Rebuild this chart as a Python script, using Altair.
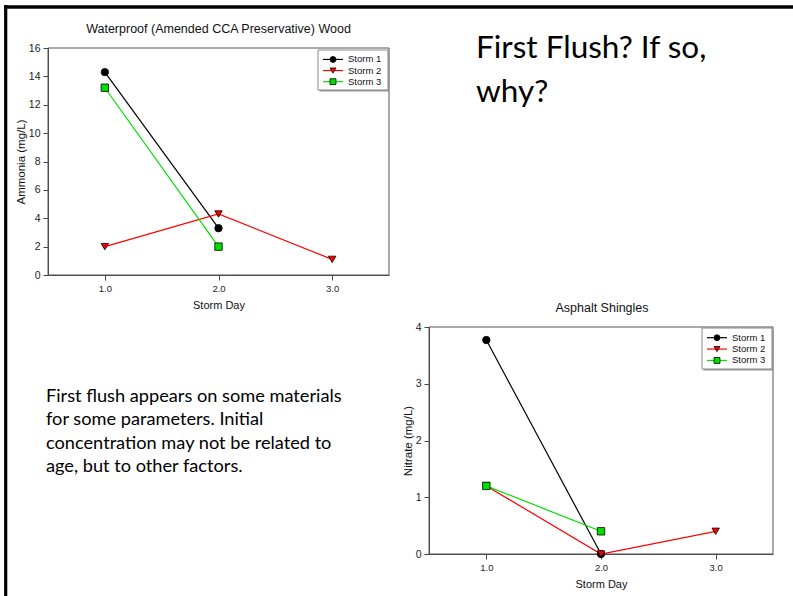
import altair as alt
import pandas as pd

W, H = 793, 596

# ---------------- data ----------------
series = ["Storm 1", "Storm 2", "Storm 3"]
day_ticks = [1.0, 2.0, 3.0]

amm_days_s1 = [1.0, 2.0]
amm_s1 = [14.3, 3.3]
amm_days_s2 = [1.0, 2.0, 3.0]
amm_s2 = [2.0, 4.3, 1.1]
amm_days_s3 = [1.0, 2.0]
amm_s3 = [13.2, 2.0]
amm_ticks = [0, 2, 4, 6, 8, 10, 12, 14, 16]

nit_days_s1 = [1.0, 2.0]
nit_s1 = [3.77, 0.0]
nit_days_s2 = [1.0, 2.0, 3.0]
nit_s2 = [1.2, 0.0, 0.4]
nit_days_s3 = [1.0, 2.0]
nit_s3 = [1.2, 0.4]
nit_ticks = [0, 1, 2, 3, 4]

title1 = "Waterproof (Amended CCA Preservative) Wood"
title2 = "Asphalt Shingles"
ytitle1 = "Ammonia (mg/L)"
ytitle2 = "Nitrate (mg/L)"
xtitle = "Storm Day"
heading = ["First Flush? If so,", "why?"]
body = ["First flush appears on some materials",
        "for some parameters. Initial",
        "concentration may not be related to",
        "age, but to other factors."]

line_colors = ["#000000", "#ff0000", "#00e000"]
shapes = ["circle", "triangle-down", "square"]

FONT = "Liberation Sans"


def long_df(pairs):
    rows = []
    for s, (days, vals) in zip(series, pairs):
        for d, v in zip(days, vals):
            rows.append({"series": s, "day": d, "value": v})
    return pd.DataFrame(rows)


amm_df = long_df([(amm_days_s1, amm_s1), (amm_days_s2, amm_s2), (amm_days_s3, amm_s3)])
nit_df = long_df([(nit_days_s1, nit_s1), (nit_days_s2, nit_s2), (nit_days_s3, nit_s3)])

color = alt.Color("series:N", scale=alt.Scale(domain=series, range=line_colors), legend=None)
shape = alt.Shape("series:N", scale=alt.Scale(domain=series, range=shapes), legend=None)

one_row = pd.DataFrame({"k": [0]})


def panel(df, ydomain, yticks, ytitle, left, right, top, bottom,
          y_extent, y_tpad, title, tx, ty, legbox):
    xs = alt.Scale(domain=[0.5, 3.5], range=[left, right], nice=False, zero=False)
    ys = alt.Scale(domain=ydomain, range=[bottom, top], nice=False, zero=False)
    xax = alt.Axis(orient="bottom", offset=-(H - bottom), values=day_ticks, format=".1f",
                   title=xtitle, grid=False, tickSize=5, labelPadding=3, labelFontSize=9.5,
                   titleFontSize=11, minExtent=18, maxExtent=18, titlePadding=6)
    yax = alt.Axis(orient="left", offset=-left, values=yticks, format="d",
                   title=ytitle, grid=False, tickSize=5, labelPadding=3, labelFontSize=10.5,
                   titleFontSize=11.5,
                   minExtent=y_extent, maxExtent=y_extent, titlePadding=y_tpad)
    X = alt.X("day:Q", scale=xs, axis=xax)
    Y = alt.Y("value:Q", scale=ys, axis=yax)

    frame_df = pd.DataFrame({"day": [0.5], "day2": [3.5],
                             "value": [ydomain[0]], "value2": [ydomain[1]]})
    frame = alt.Chart(frame_df).mark_rect(fill=None, stroke="#555555", strokeWidth=1).encode(
        x=X, x2="day2:Q", y=Y, y2="value2:Q")

    base = alt.Chart(df)
    lines = base.mark_line(strokeWidth=1.2).encode(x=X, y=Y, color=color, detail="series:N",
                                                   order="day:Q")
    pts = base.mark_point(filled=True, size=55, stroke="#000000", strokeWidth=0.8,
                          opacity=1).encode(x=X, y=Y, color=color, shape=shape)

    ttl = alt.Chart(one_row).mark_text(text=title, font=FONT, fontSize=12.5,
                                       fontWeight="normal", align="center",
                                       baseline="middle", color="#111111").encode(
        x=alt.value(tx), y=alt.value(ty))

    # legend
    bx0, by0, bx1, by1 = legbox
    shadow = alt.Chart(one_row).mark_rect(fill="#9a9a9a").encode(
        x=alt.value(bx0 + 1.5), x2=alt.value(bx1 + 1.5), y=alt.value(by0 + 1.5),
        y2=alt.value(by1 + 1.5))
    box = alt.Chart(one_row).mark_rect(fill="white", stroke="#888888", strokeWidth=1).encode(
        x=alt.value(bx0), x2=alt.value(bx1), y=alt.value(by0), y2=alt.value(by1))
    step = (by1 - by0) / 3.6
    leg_df = pd.DataFrame({
        "series": series,
        "ly": [by0 + step * (0.85 + i) for i in range(3)],
        "lx0": [bx0 + 5] * 3,
        "lx1": [bx0 + 25] * 3,
        "sx": [bx0 + 15] * 3,
        "tx": [bx0 + 30] * 3,
    })
    lb = alt.Chart(leg_df)
    leg_lines = lb.mark_rule(strokeWidth=1.2).encode(
        x=alt.X("lx0:Q", scale=None, axis=None), x2="lx1:Q",
        y=alt.Y("ly:Q", scale=None, axis=None), color=color)
    leg_pts = lb.mark_point(filled=True, size=35, stroke="#000000", strokeWidth=0.8,
                            opacity=1).encode(
        x=alt.X("sx:Q", scale=None, axis=None), y=alt.Y("ly:Q", scale=None, axis=None),
        color=color, shape=shape)
    leg_txt = lb.mark_text(font=FONT, fontSize=9.5, fontWeight="normal", align="left",
                           baseline="middle", color="#111111").encode(
        x=alt.X("tx:Q", scale=None, axis=None), y=alt.Y("ly:Q", scale=None, axis=None),
        text="series:N")

    return alt.layer(frame, lines, pts, ttl, shadow, box, leg_lines, leg_pts, leg_txt)


p1 = panel(amm_df, [0, 16], amm_ticks, ytitle1, 48, 389, 48, 275, 17, 5,
           title1, 218.5, 29, (318, 50, 388, 90))
p2 = panel(nit_df, [0, 4], nit_ticks, ytitle2, 429, 773, 327, 554, 11, 5,
           title2, 602, 308, (702, 328, 772, 369))

head = alt.Chart(one_row).mark_text(text=heading, font="Lato", fontSize=31.5, lineHeight=44,
                                    align="left", baseline="alphabetic",
                                    color="#000000").encode(x=alt.value(476), y=alt.value(58))
bodyt = alt.Chart(one_row).mark_text(text=body, font="Lato", fontSize=18.2, lineHeight=23.3,
                                     align="left", baseline="alphabetic",
                                     color="#000000").encode(x=alt.value(46), y=alt.value(402))

border_top = alt.Chart(one_row).mark_rule(color="#000000", strokeWidth=3.5).encode(
    x=alt.value(4), x2=alt.value(W), y=alt.value(7))
border_left = alt.Chart(one_row).mark_rule(color="#000000", strokeWidth=3.2).encode(
    x=alt.value(5.7), y=alt.value(5), y2=alt.value(H))

chart = alt.layer(p1, p2, head, bodyt, border_top, border_left).resolve_scale(
    x="independent", y="independent"
).resolve_axis(
    x="independent", y="independent"
).properties(
    width=W, height=H, padding=0, autosize=alt.AutoSizeParams(type="none"),
    background="white"
).configure_view(stroke=None).configure_axis(
    labelFont=FONT, titleFont=FONT,
    titleFontWeight="normal", labelColor="#222222", titleColor="#111111",
    domainColor="#444444", tickColor="#444444", domainWidth=1, tickWidth=1
)

chart.save("out.html", embed_options={"renderer": "svg", "actions": False})
